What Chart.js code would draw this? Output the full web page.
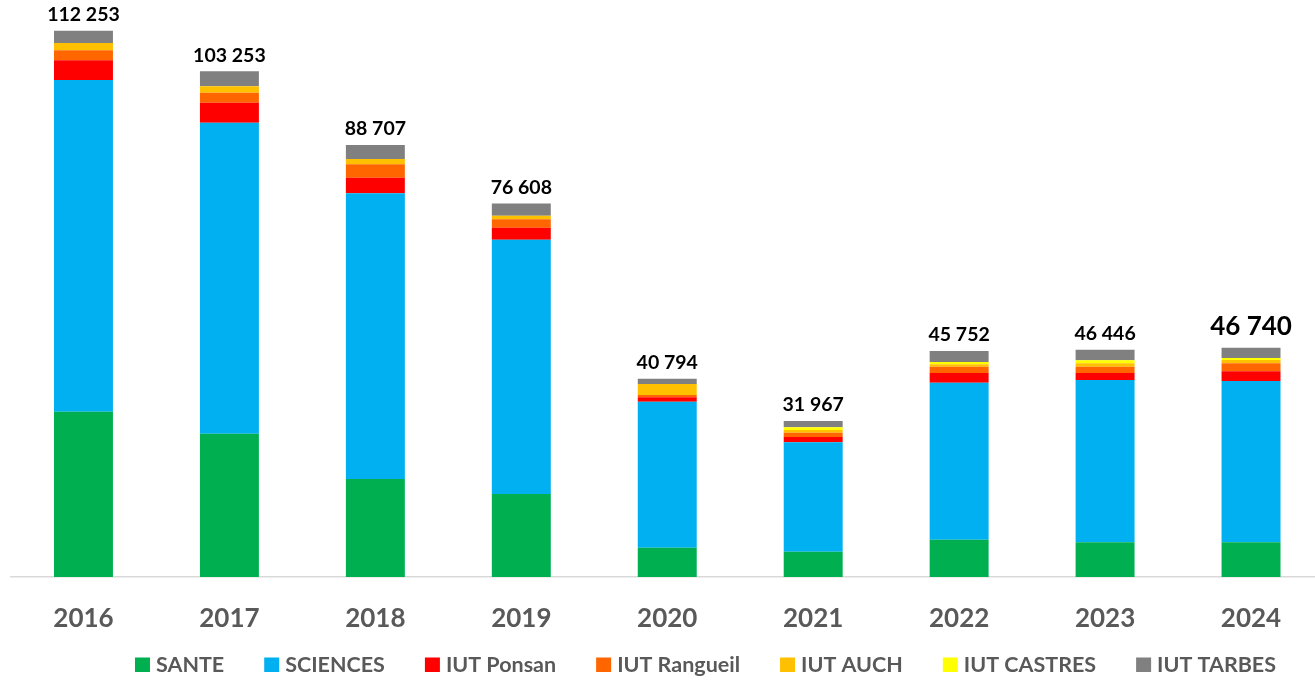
<!DOCTYPE html>
<html><head><meta charset="utf-8">
<script src="https://cdn.jsdelivr.net/npm/chart.js@4.4.1/dist/chart.umd.min.js"></script>
<style>
html,body{margin:0;padding:0;background:#fff;overflow:hidden;}
#wrap{position:relative;width:1324px;height:680px;}
</style></head><body>
<div id="wrap"><canvas id="c" width="1324" height="680"></canvas></div>
<script>
const years = ['2016','2017','2018','2019','2020','2021','2022','2023','2024'];
const sante = [33970, 29450, 20140, 17060, 6020, 5200, 7670, 7130, 7130];
const sciences = [68160, 63910, 58710, 52260, 30000, 22480, 32260, 33350, 33150];
const iutPonsan = [4050, 4110, 3210, 2470, 900, 1090, 1990, 1440, 1990];
const iutRangueil = [2055, 2055, 2750, 1730, 470, 880, 1300, 1300, 1640];
const iutAuch = [1500, 1315, 1090, 740, 2260, 550, 490, 700, 680];
const iutCastres = [0, 0, 0, 0, 0, 550, 470, 620, 410];
const iutTarbes = [2530, 3080, 2880, 2470, 1090, 1290, 2260, 2180, 2120];
const totals = [112253, 103253, 88707, 76608, 40794, 31967, 45752, 46446, 46740];

function fmt(n){ return String(n).replace(/\B(?=(\d{3})+(?!\d))/g, ' '); }

const FONT = 'Lato';

const totalsPlugin = {
  id: 'totals',
  afterDatasetsDraw(chart){
    const ctx = chart.ctx, ys = chart.scales.y, xs = chart.scales.x;
    ctx.save();
    ctx.fillStyle = '#000';
    ctx.textAlign = 'center';
    ctx.textBaseline = 'alphabetic';
    years.forEach((y, i) => {
      let sum = 0;
      chart.data.datasets.forEach(ds => sum += ds.data[i]);
      const size = (i === years.length - 1) ? 26 : 19.5;
      ctx.font = 'bold ' + size + 'px ' + FONT;
      const top = ys.getPixelForValue(sum);
      ctx.fillText(fmt(totals[i]), xs.getPixelForValue(i), top - size * 0.5);
    });
    ctx.restore();
  }
};

const legendPlugin = {
  id: 'customLegend',
  afterDraw(chart){
    const ctx = chart.ctx;
    ctx.save();
    ctx.font = 'bold 21.5px ' + FONT;
    const box = 15, gap = 6, spacing = 40;
    const items = chart.data.datasets.map(ds => ({label: ds.label, color: ds.backgroundColor, w: ctx.measureText(ds.label).width}));
    let total = 0;
    items.forEach((it, k) => { total += box + gap + it.w + (k ? spacing : 0); });
    let x = 705.5 - total / 2;
    const baseY = 672;
    ctx.textBaseline = 'alphabetic';
    ctx.textAlign = 'left';
    items.forEach(it => {
      ctx.fillStyle = it.color;
      ctx.fillRect(x, baseY - 14.5, box, 14.5);
      ctx.fillStyle = '#595959';
      ctx.fillText(it.label, x + box + gap, baseY);
      x += box + gap + it.w + spacing;
    });
    ctx.restore();
  }
};

function mk(label, data, color){
  return {label, data, backgroundColor: color, borderWidth: 0, barPercentage: 0.404, categoryPercentage: 1};
}

function draw(){
  new Chart(document.getElementById('c'), {
    type: 'bar',
    data: {
      labels: years,
      datasets: [
        mk('SANTE', sante, '#00B050'),
        mk('SCIENCES', sciences, '#00B0F0'),
        mk('IUT Ponsan', iutPonsan, '#FF0000'),
        mk('IUT Rangueil', iutRangueil, '#FF6600'),
        mk('IUT AUCH', iutAuch, '#FFC000'),
        mk('IUT CASTRES', iutCastres, '#FFFF00'),
        mk('IUT TARBES', iutTarbes, '#808080')
      ]
    },
    options: {
      responsive: false,
      animation: false,
      devicePixelRatio: 1,
      layout: {padding: {left: 10.5, right: 0, top: 0, bottom: 33}},
      plugins: {legend: {display: false}, tooltip: {enabled: false}},
      scales: {
        x: {
          stacked: true,
          grid: {display: false, drawTicks: false},
          border: {display: true, color: '#D9D9D9', width: 1.5},
          ticks: {color: '#595959', font: {family: FONT, size: 26, weight: 'bold'}, padding: 26},
          afterFit(s){ s.height = 70; }
        },
        y: {stacked: true, display: false, min: 0, max: 118574}
      }
    },
    plugins: [totalsPlugin, legendPlugin]
  });
}
if (document.fonts && document.fonts.load) {
  Promise.all([document.fonts.load('bold 20px Lato')]).then(draw, draw);
} else draw();
</script>
</body></html>
